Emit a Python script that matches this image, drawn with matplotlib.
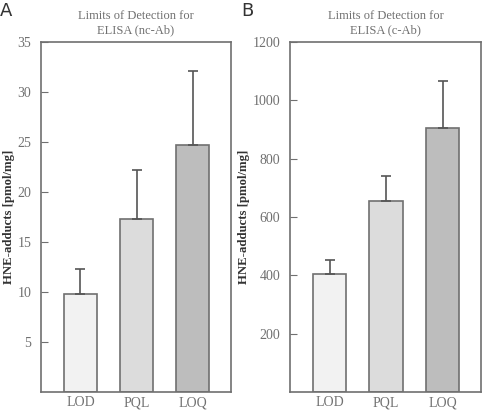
import matplotlib.pyplot as plt

cats = ['LOD', 'PQL', 'LOQ']
nc_vals = [9.8, 17.3, 24.7]
nc_err = [2.5, 4.9, 7.4]
c_vals = [405, 655, 905]
c_err = [47, 85, 160]
colors = ['#f2f2f2', '#dcdcdc', '#bdbdbd']

plt.rcParams['font.family'] = ['Liberation Serif', 'DejaVu Serif']
edge = '#707070'
txt = '#707070'

fig = plt.figure(figsize=(4.82, 4.12), dpi=100)
axA = fig.add_axes([41/482, 20/412, 190/482, 350/412])
axB = fig.add_axes([290/482, 20/412, 191/482, 350/412])


def panel(ax, vals, err, ymax, ticks, title, letter, lx):
    x = range(len(cats))
    ax.bar(x, vals, width=0.59, color=colors, edgecolor=edge, linewidth=1.2, zorder=2)
    ax.errorbar(x, vals, yerr=[[0]*3, err], fmt='none', ecolor='#555555',
                elinewidth=1.2, capsize=3.5, capthick=1.2, zorder=3)
    ax.set_xlim(-0.7, 2.68)
    ax.set_ylim(0, ymax)
    ax.set_yticks(ticks)
    ax.set_xticks(list(x))
    ax.set_xticklabels(cats)
    ax.tick_params(axis='y', direction='in', length=5, color=edge, labelsize=10, labelcolor=txt, pad=7)
    ax.tick_params(axis='x', length=0, labelsize=10, labelcolor=txt, pad=3)
    for s in ax.spines.values():
        s.set_color(edge)
        s.set_linewidth(1.2)
    ax.set_ylabel('HNE-adducts [pmol/mg]', fontsize=9.2, fontweight='bold', color='#333333', labelpad=2)
    ax.set_title(title, fontsize=9, color=txt, pad=6, linespacing=1.25)
    fig.text(lx, 1 - 2/412, letter, family='DejaVu Sans', fontsize=13, color='#333333', va='top', ha='left')


panel(axA, nc_vals, nc_err, 35, [5, 10, 15, 20, 25, 30, 35],
      'Limits of Detection for\nELISA (nc-Ab)', 'A', 0/482)
panel(axB, c_vals, c_err, 1200, [200, 400, 600, 800, 1000, 1200],
      'Limits of Detection for\nELISA (c-Ab)', 'B', 241/482)

fig.savefig('out.png', dpi=100)
